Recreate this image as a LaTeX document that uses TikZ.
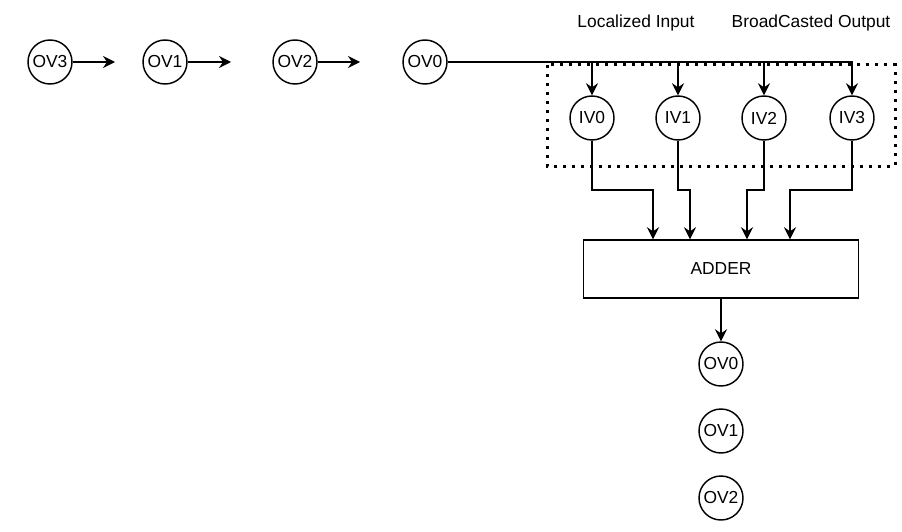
\documentclass[tikz,border=0pt]{standalone}
\usepackage{fontspec}
\setmainfont{Liberation Sans}
\usetikzlibrary{arrows.meta}
\begin{document}
\begin{tikzpicture}[x=1pt,y=-1pt,
 every node/.style={font=\fontsize{17.4}{20}\selectfont},
 circ/.style={draw, circle, minimum size=44pt, inner sep=0pt, line width=1.45pt},
 addbox/.style={draw, rectangle, minimum width=275pt, minimum height=58pt, line width=1.45pt},
 conn/.style={line width=1.45pt, -{Stealth[length=12pt,width=12pt,inset=4pt]}},
 dotbox/.style={draw, line width=3pt, dash pattern=on 3pt off 6pt},
 lbl/.style={inner sep=0pt}
]
\useasboundingbox (0,0) rectangle (902,532);

% group box
\draw[dotbox] (547,65) rectangle (895,166);

% labels
\node[lbl] (li) at (636,23) {Localized Input};
\node[lbl] (bo) at (811,23) {BroadCasted Output};

% top row
\node[circ] (ov3) at (50,62) {OV3};
\node[circ] (ov1) at (165,62) {OV1};
\node[circ] (ov2) at (295,62) {OV2};
\node[circ] (ov0) at (425,62) {OV0};
\coordinate (a3) at (115,62);
\coordinate (a1) at (231,62);
\coordinate (a2) at (360,62);
\draw[conn] (ov3) -- (a3);
\draw[conn] (ov1) -- (a1);
\draw[conn] (ov2) -- (a2);

% IV row
\node[circ] (iv0) at (592,118) {IV0};
\node[circ] (iv1) at (678,118) {IV1};
\node[circ] (iv2) at (764,118) {IV2};
\node[circ] (iv3) at (852,118) {IV3};
\draw[conn] (ov0.east) -| (iv0);
\draw[conn] (ov0.east) -| (iv1);
\draw[conn] (ov0.east) -| (iv2);
\draw[conn] (ov0.east) -| (iv3);

% adder
\node[addbox] (add) at (721,269) {ADDER};
\coordinate (e0) at (653,190);
\coordinate (e1) at (690,190);
\coordinate (e2) at (747,190);
\coordinate (e3) at (790,190);
\draw[conn] (iv0) |- (e0) -- (e0 |- add.north);
\draw[conn] (iv1) |- (e1) -- (e1 |- add.north);
\draw[conn] (iv2) |- (e2) -- (e2 |- add.north);
\draw[conn] (iv3) |- (e3) -- (e3 |- add.north);

% bottom column
\node[circ] (ob0) at (721,364) {OV0};
\node[circ] (ob1) at (721,431) {OV1};
\node[circ] (ob2) at (721,498) {OV2};
\draw[conn] (add) -- (ob0);
\end{tikzpicture}
\end{document}
